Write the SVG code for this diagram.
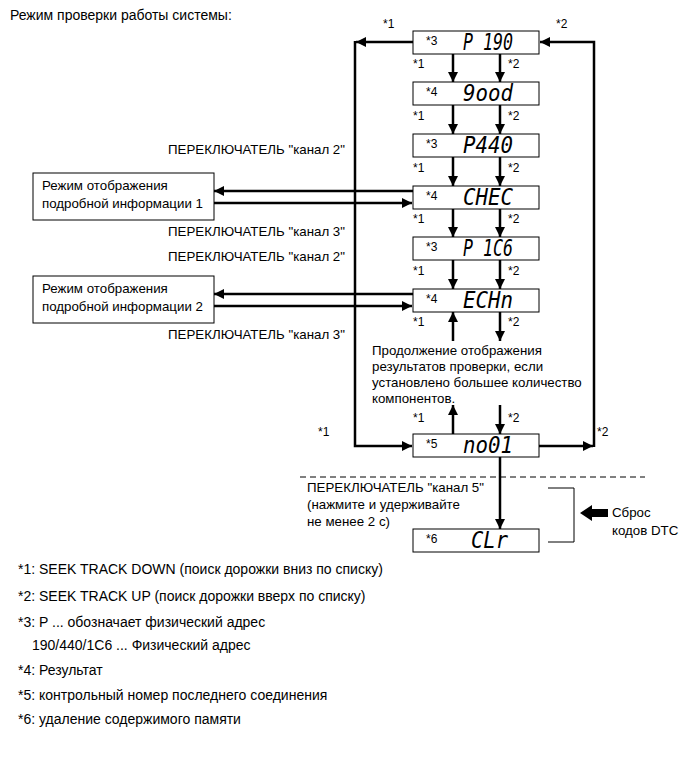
<svg xmlns="http://www.w3.org/2000/svg" width="690" height="759" viewBox="0 0 690 759">
<style>
text{font-family:"Liberation Sans",Arial,sans-serif;font-size:13.3px;fill:#000}
.sm{font-size:12px}
.fn{font-size:14px}
.lcd{font-family:"DejaVu Sans Mono",monospace;font-style:italic;font-size:23px}
.box{fill:#fff;stroke:#000;stroke-width:1}
.ln{fill:none;stroke:#000;stroke-width:2.5}
.r{text-anchor:end}
</style>
<defs>
<marker id="ah" viewBox="0 0 10 10" refX="10" refY="5" markerWidth="10" markerHeight="10" markerUnits="userSpaceOnUse" orient="auto">
<path d="M0,0 L10,5 L0,10 z" fill="#000"/>
</marker>
</defs>
<rect width="690" height="759" fill="#fff"/>
<text class="fn" x="10" y="20">Режим проверки работы системы:</text>

<g id="connectors">
<path class="ln" d="M413,42 H356" marker-end="url(#ah)"/>
<path class="ln" d="M355,41 V446 H412" marker-end="url(#ah)"/>
<path class="ln" d="M539,446 H593" marker-end="url(#ah)"/>
<path class="ln" d="M594,447 V42 H540" marker-end="url(#ah)"/>
<path class="ln" d="M453,54 V82" marker-end="url(#ah)"/>
<path class="ln" d="M500,54 V82" marker-end="url(#ah)"/>
<path class="ln" d="M453,105 V134" marker-end="url(#ah)"/>
<path class="ln" d="M500,105 V134" marker-end="url(#ah)"/>
<path class="ln" d="M453,157 V186" marker-end="url(#ah)"/>
<path class="ln" d="M500,157 V186" marker-end="url(#ah)"/>
<path class="ln" d="M453,209 V237" marker-end="url(#ah)"/>
<path class="ln" d="M500,209 V237" marker-end="url(#ah)"/>
<path class="ln" d="M453,260 V289" marker-end="url(#ah)"/>
<path class="ln" d="M500,260 V289" marker-end="url(#ah)"/>
<path class="ln" d="M453,341 V312" marker-end="url(#ah)"/>
<path class="ln" d="M500,312 V341" marker-end="url(#ah)"/>
<path class="ln" d="M453,434 V405" marker-end="url(#ah)"/>
<path class="ln" d="M500,405 V434" marker-end="url(#ah)"/>
<path class="ln" d="M500,457 V529" marker-end="url(#ah)"/>
<path class="ln" d="M413,191 H214" marker-end="url(#ah)"/>
<path class="ln" d="M214,203 H412" marker-end="url(#ah)"/>
<path class="ln" d="M413,294 H214" marker-end="url(#ah)"/>
<path class="ln" d="M214,306 H412" marker-end="url(#ah)"/>
<path d="M300,477 H645" fill="none" stroke="#000" stroke-width="1" stroke-dasharray="6,4"/>
<path d="M548,488 H574 V542 H548" fill="none" stroke="#000" stroke-width="1"/>
<path d="M580,513 L592,505 L592,509 L608,509 L608,517 L592,517 L592,521 z" fill="#000"/>
</g>

<g id="labels">
<text class="sm" x="383" y="28">*1</text>
<text class="sm" x="556" y="28">*2</text>
<text class="sm" x="413" y="68">*1</text><text class="sm" x="508" y="68">*2</text>
<text class="sm" x="413" y="120">*1</text><text class="sm" x="508" y="120">*2</text>
<text class="sm" x="413" y="172">*1</text><text class="sm" x="508" y="172">*2</text>
<text class="sm" x="413" y="223">*1</text><text class="sm" x="508" y="223">*2</text>
<text class="sm" x="413" y="275">*1</text><text class="sm" x="508" y="275">*2</text>
<text class="sm" x="413" y="326">*1</text><text class="sm" x="508" y="326">*2</text>
<text class="sm" x="413" y="422">*1</text><text class="sm" x="508" y="422">*2</text>
<text class="sm" x="318" y="436">*1</text>
<text class="sm" x="597" y="436">*2</text>
<text class="r" x="345" y="154">ПЕРЕКЛЮЧАТЕЛЬ "канал 2"</text>
<text class="r" x="345" y="236">ПЕРЕКЛЮЧАТЕЛЬ "канал 3"</text>
<text class="r" x="345" y="261">ПЕРЕКЛЮЧАТЕЛЬ "канал 2"</text>
<text class="r" x="345" y="339">ПЕРЕКЛЮЧАТЕЛЬ "канал 3"</text>
<text x="372" y="355">Продолжение отображения</text>
<text x="372" y="371">результатов проверки, если</text>
<text x="372" y="387">установлено большее количество</text>
<text x="372" y="403">компонентов.</text>
<text x="307" y="492">ПЕРЕКЛЮЧАТЕЛЬ "канал 5"</text>
<text x="307" y="509">(нажмите и удерживайте</text>
<text x="307" y="526">не менее 2 с)</text>
<text x="612" y="517">Сброс</text>
<text x="612" y="535">кодов DTC</text>
</g>

<g id="n-p190"><rect class="box" x="413" y="31" width="126" height="23"/><text class="sm" x="426" y="45">*3</text><text class="lcd" x="463" y="50" textLength="50" lengthAdjust="spacingAndGlyphs">P 190</text></g>
<g id="n-good"><rect class="box" x="413" y="82" width="126" height="23"/><text class="sm" x="426" y="96">*4</text><text class="lcd" x="463" y="101" textLength="50" lengthAdjust="spacingAndGlyphs">9ood</text></g>
<g id="n-p440"><rect class="box" x="413" y="134" width="126" height="23"/><text class="sm" x="426" y="148">*3</text><text class="lcd" x="463" y="153" textLength="50" lengthAdjust="spacingAndGlyphs">P440</text></g>
<g id="n-chec"><rect class="box" x="413" y="186" width="126" height="23"/><text class="sm" x="426" y="200">*4</text><text class="lcd" x="463" y="205" textLength="50" lengthAdjust="spacingAndGlyphs">CHEC</text></g>
<g id="n-p1c6"><rect class="box" x="413" y="237" width="126" height="23"/><text class="sm" x="426" y="251">*3</text><text class="lcd" x="463" y="256" textLength="50" lengthAdjust="spacingAndGlyphs">P 1C6</text></g>
<g id="n-echn"><rect class="box" x="413" y="289" width="126" height="23"/><text class="sm" x="426" y="303">*4</text><text class="lcd" x="463" y="308" textLength="50" lengthAdjust="spacingAndGlyphs">ECHn</text></g>
<g id="n-no01"><rect class="box" x="413" y="434" width="126" height="23"/><text class="sm" x="426" y="448">*5</text><text class="lcd" x="463" y="453" textLength="50" lengthAdjust="spacingAndGlyphs">no01</text></g>
<g id="n-clr"><rect class="box" x="413" y="529" width="126" height="23"/><text class="sm" x="426" y="543">*6</text><text class="lcd" x="471" y="548" textLength="37" lengthAdjust="spacingAndGlyphs">CLr</text></g>

<g id="n-detail1"><rect class="box" x="33" y="173" width="181" height="47"/><text x="42" y="190">Режим отображения</text><text x="42" y="208">подробной информации 1</text></g>
<g id="n-detail2"><rect class="box" x="33" y="276" width="181" height="47"/><text x="42" y="293">Режим отображения</text><text x="42" y="311">подробной информации 2</text></g>

<g id="footnotes">
<text class="fn" x="18" y="574">*1: SEEK TRACK DOWN (поиск дорожки вниз по списку)</text>
<text class="fn" x="18" y="601">*2: SEEK TRACK UP (поиск дорожки вверх по списку)</text>
<text class="fn" x="18" y="627">*3: P ... обозначает физический адрес</text>
<text class="fn" x="32" y="650">190/440/1C6 ... Физический адрес</text>
<text class="fn" x="18" y="675">*4: Результат</text>
<text class="fn" x="18" y="700">*5: контрольный номер последнего соединения</text>
<text class="fn" x="18" y="724">*6: удаление содержимого памяти</text>
</g>
</svg>
